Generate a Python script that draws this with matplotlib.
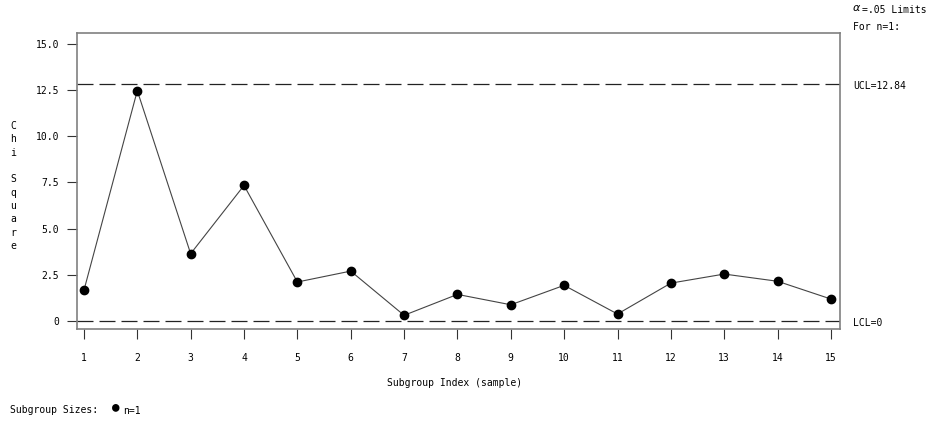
import matplotlib.pyplot as plt

subgroups = list(range(1, 16))
chi_sq = [1.66, 12.45, 3.64, 7.33, 2.11, 2.70, 0.31, 1.44, 0.88, 1.93, 0.38, 2.05, 2.54, 2.15, 1.19]
ucl = 12.84
lcl = 0
y_ticks = [0, 2.5, 5.0, 7.5, 10.0, 12.5, 15.0]
y_tick_labels = ['0', '2.5', '5.0', '7.5', '10.0', '12.5', '15.0']

plt.rcParams['font.family'] = 'DejaVu Sans Mono'
fs = 7

fig = plt.figure(figsize=(9.29, 4.23), dpi=100)
ax = fig.add_axes([77 / 929, 1 - 329 / 423, (840 - 77) / 929, (329 - 33) / 423])

ax.plot(subgroups, chi_sq, color='#444444', lw=0.8, zorder=2)
ax.plot(subgroups, chi_sq, 'o', color='black', ms=6, zorder=3)
ax.axhline(ucl, color='#222222', lw=0.9, dashes=(12.8, 4.8))
ax.axhline(lcl, color='#222222', lw=0.9, dashes=(12.8, 4.8))

ax.set_xlim(0.87, 15.17)
ax.set_ylim(-0.43, 15.57)
ax.set_xticks(subgroups)
ax.set_xticklabels([str(s) for s in subgroups], fontsize=fs)
ax.set_yticks(y_ticks)
ax.set_yticklabels(y_tick_labels, fontsize=fs)
ax.tick_params(axis='both', length=7, width=0.8, color='#333333', pad=10)
ax.tick_params(axis='y', pad=6)
for s in ax.spines.values():
    s.set_color('#808080')
    s.set_linewidth(1.2)

fig.text(13 / 929, 1 - 186 / 423, 'C\nh\ni\n\nS\nq\nu\na\nr\ne', fontsize=fs,
         ha='center', va='center', linespacing=1.42)
fig.text(455 / 929, 1 - 383 / 423, 'Subgroup Index (sample)', fontsize=fs, ha='center', va='center')
fig.text(852 / 929, 1 - 8 / 423, r'$\alpha$', fontsize=8, ha='left', va='center')
fig.text(862 / 929, 1 - 10 / 423, '=.05 Limits', fontsize=fs, ha='left', va='center')
fig.text(853 / 929, 1 - 27 / 423, 'For n=1:', fontsize=fs, ha='left', va='center')
fig.text(853 / 929, 1 - 86 / 423, 'UCL=12.84', fontsize=fs, ha='left', va='center')
fig.text(853 / 929, 1 - 323 / 423, 'LCL=0', fontsize=fs, ha='left', va='center')
fig.text(10 / 929, 1 - 410 / 423, 'Subgroup Sizes:', fontsize=fs, ha='left', va='center')
fig.text(116 / 929, 1 - 407 / 423, '\u25cf', fontsize=9, ha='center', va='center')
fig.text(123 / 929, 1 - 411 / 423, 'n=1', fontsize=fs, ha='left', va='center')

fig.savefig('out.png', dpi=100)
